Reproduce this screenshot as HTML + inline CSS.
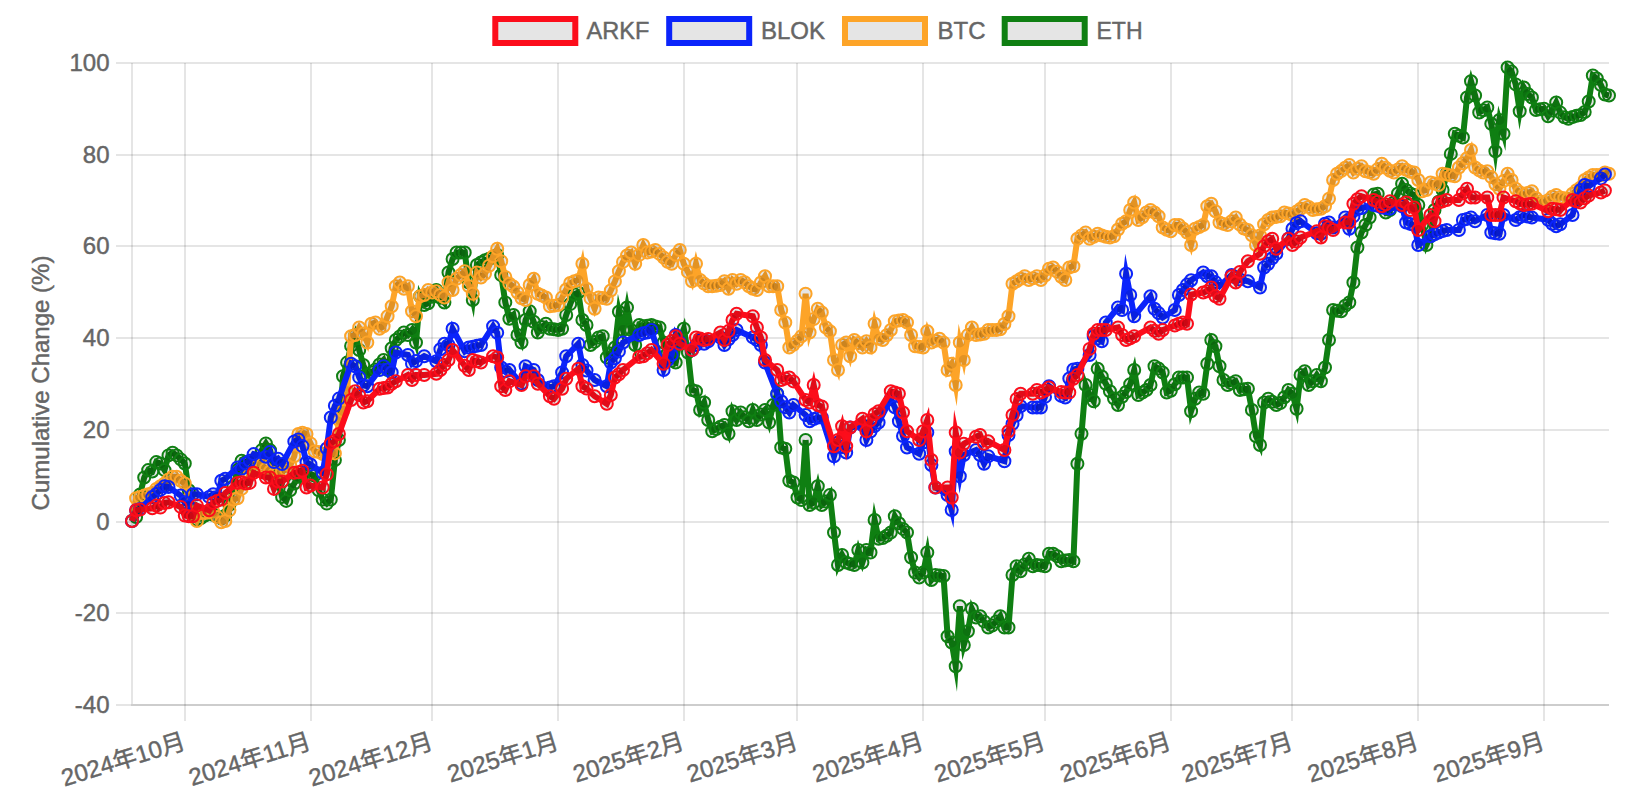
<!DOCTYPE html>
<html lang="zh"><head><meta charset="utf-8"><title>Cumulative Change</title>
<style>
html,body{margin:0;padding:0;background:#fff}
body{width:1644px;height:810px;overflow:hidden}
svg{display:block}
text{font-family:"Liberation Sans","Noto Sans CJK SC",sans-serif;font-size:24px;fill:#666;stroke:#666;stroke-width:.45px}
.g{stroke:#000;stroke-opacity:.1;stroke-width:2;fill:none}
.ln{fill:none;stroke-width:6;stroke-linejoin:miter;stroke-miterlimit:10}
.pt{fill:#000;fill-opacity:.1;stroke-width:2}
</style></head><body>
<svg width="1644" height="810" viewBox="0 0 1644 810">
<rect width="1644" height="810" fill="#fff"/>
<g id="legend">
<rect x="495.3" y="19" width="80" height="24" fill="#e5e5e5" stroke="#fc0d1b" stroke-width="6"/><text x="586.6" y="38.7" textLength="62.7" lengthAdjust="spacingAndGlyphs">ARKF</text>
<rect x="669.2" y="19" width="80" height="24" fill="#e5e5e5" stroke="#0b24fb" stroke-width="6"/><text x="761" y="38.7">BLOK</text>
<rect x="845" y="19" width="80" height="24" fill="#e5e5e5" stroke="#fda428" stroke-width="6"/><text x="937.5" y="38.7">BTC</text>
<rect x="1004.7" y="19" width="80" height="24" fill="#e5e5e5" stroke="#0f7f12" stroke-width="6"/><text x="1096.5" y="38.7" textLength="46.1" lengthAdjust="spacingAndGlyphs">ETH</text>
</g>
<g id="grid" class="g">
<path d="M116 63H1609"/><path d="M116 155H1609"/><path d="M116 246H1609"/><path d="M116 338H1609"/><path d="M116 430H1609"/><path d="M116 522H1609"/><path d="M116 613H1609"/><path d="M116 705H1609"/>
<path d="M185 63V721"/><path d="M311 63V721"/><path d="M432 63V721"/><path d="M558 63V721"/><path d="M684 63V721"/><path d="M797 63V721"/><path d="M923 63V721"/><path d="M1045 63V721"/><path d="M1171 63V721"/><path d="M1292 63V721"/><path d="M1418 63V721"/><path d="M1544 63V721"/>
<path d="M132 63V705H1609"/>
</g>
<g id="ylabels" text-anchor="end">
<text x="109.5" y="70.8">100</text><text x="109.5" y="162.8">80</text><text x="109.5" y="253.8">60</text><text x="109.5" y="345.8">40</text><text x="109.5" y="437.8">20</text><text x="109.5" y="529.8">0</text><text x="109.5" y="620.8">-20</text><text x="109.5" y="712.8">-40</text>
</g>
<text transform="translate(49,383) rotate(-90)" text-anchor="middle">Cumulative Change (%)</text>
<g id="xlabels" text-anchor="end">
<text transform="translate(186.8,748.4) rotate(-17.3)">2024年10月</text>
<text transform="translate(312.5,748.4) rotate(-17.3)">2024年11月</text>
<text transform="translate(434.3,748.4) rotate(-17.3)">2024年12月</text>
<text transform="translate(560.1,748.4) rotate(-17.3)">2025年1月</text>
<text transform="translate(685.8,748.4) rotate(-17.3)">2025年2月</text>
<text transform="translate(799.5,748.4) rotate(-17.3)">2025年3月</text>
<text transform="translate(925.2,748.4) rotate(-17.3)">2025年4月</text>
<text transform="translate(1047,748.4) rotate(-17.3)">2025年5月</text>
<text transform="translate(1172.8,748.4) rotate(-17.3)">2025年6月</text>
<text transform="translate(1294.5,748.4) rotate(-17.3)">2025年7月</text>
<text transform="translate(1420.3,748.4) rotate(-17.3)">2025年8月</text>
<text transform="translate(1546.1,748.4) rotate(-17.3)">2025年9月</text>
</g>
<g id="ETH" stroke="#0f7f12">
<path class="ln" d="M132 521 136.1 517 140.1 494.4 144.2 477.5 148.2 470.1 152.3 471.5 156.3 462.1 160.4 463.5 164.5 470.1 168.5 455.4 172.6 452.7 176.6 455.4 180.7 459.4 184.8 463.5 188.8 490.2 192.9 507.9 196.9 519.7 201 518.1 205 515.6 209.1 513 213.2 514.7 217.2 516.8 221.3 518.3 225.3 515.6 229.4 504.9 233.4 486.2 237.5 470.1 241.6 460.8 245.6 462.1 249.7 467.5 253.7 463.5 257.8 460.8 261.8 450.1 265.9 443.4 270 450.1 274 468.4 278.1 482.6 282.1 496.9 286.2 500.9 290.2 490.2 294.3 483.5 298.4 476.8 302.4 474.2 306.5 475.5 310.5 474.2 314.6 475.5 318.7 490.2 322.7 499.6 326.8 503.6 330.8 499.6 334.9 460 338.9 440 343 376.2 347.1 362.6 351.1 345.9 355.2 335 359.2 350 363.3 365 367.3 375 371.4 372.5 375.5 369.5 379.5 364.5 383.6 360 387.6 370 391.7 348.2 395.8 340 399.8 336.5 403.9 332.5 407.9 335 412 330 416 342.5 420.1 296.2 424.2 305 428.2 303.2 432.3 296.8 436.3 290 440.4 297.7 444.4 302.5 448.5 272.5 452.6 259 456.6 252.5 460.7 252.5 464.7 252.5 468.8 282.5 472.8 300 476.9 265 481 262.4 485 260.3 489.1 258.8 493.1 257.5 497.2 255 501.2 275 505.3 302.4 509.4 318.8 513.4 315 517.5 335 521.5 342.5 525.6 320 529.7 311.2 533.7 321.7 537.8 332.5 541.8 326.9 545.9 323.8 549.9 328.8 554 329.3 558.1 330 562.1 328.8 566.2 315 570.2 304.1 574.3 294.3 578.3 292.5 582.4 320 586.5 325 590.5 345 594.6 341.9 598.6 337.5 602.7 336.2 606.8 357.5 610.8 353.4 614.9 347.5 618.9 311.8 623 330 627 307.5 631.1 330 635.2 345 639.2 325 643.3 326.2 647.3 325.7 651.4 325 655.4 326.4 659.5 327.5 663.6 342.5 667.6 353.3 671.7 360.7 675.7 362.5 679.8 339.5 683.8 328.8 687.9 352.5 692 390 696 391.2 700.1 410 704.1 402.5 708.2 420 712.2 431.2 716.3 429 720.4 426.7 724.4 425 728.5 433.8 732.5 411.2 736.6 420 740.7 412.5 744.7 417.3 748.8 421.2 752.8 410 756.9 420 760.9 414.5 765 410 769.1 422.5 773.1 405 777.2 393.8 781.2 447.5 785.3 448.8 789.3 480.7 793.4 482.5 797.5 497.5 801.5 500 805.6 440 M805.6 440 809.6 505 813.7 502.5 817.8 486.2 821.8 505 825.9 501.6 829.9 495 834 532.5 838 565 842.1 555 846.2 562.5 850.2 563.9 854.3 565 858.3 550 862.4 562.5 866.4 550 870.5 552.5 874.6 520 878.6 538.8 882.7 538.1 886.7 535.8 890.8 532.5 894.8 516.2 898.9 523.3 903 528.9 907 532.5 911.1 557.5 915.1 572.5 919.2 577.5 923.2 572.5 927.3 552.5 931.4 580 935.4 575 939.5 575.5 943.5 576 947.6 636.2 951.7 642.5 955.7 666.2 959.8 606.2 963.8 645 967.9 631.2 971.9 608.8 976 617.5 980.1 616.2 984.1 621.4 988.2 627.5 992.2 625.6 996.3 621.4 1000.3 616.2 1004.4 627.5 1008.5 627.5 1012.5 575 1016.6 566.2 1020.6 571.2 1024.7 564.4 1028.8 558.8 1032.8 566.2 1036.9 565 1040.9 565.4 1045 566.2 1049 553.8 1053.1 553.8 1057.2 556.3 1061.2 561.2 1065.3 560.4 1069.3 560 1073.4 561.2 1077.4 463.8 1081.5 433.8 1085.6 385 1089.6 395 1093.7 401.2 1097.7 368.8 1101.8 376.5 1105.8 383.8 1109.9 391.2 1114 398.5 1118 405 1122.1 396.8 1126.1 392 1130.2 384.2 1134.2 370 1138.3 395 1142.4 392.6 1146.4 390 1150.5 385 1154.5 366.2 1158.6 368.6 1162.7 372.5 1166.7 392.5 1170.8 390.7 1174.8 384.2 1178.9 377.5 1182.9 377.5 1187 377.5 1191.1 411.2 1195.1 398.8 1199.2 392.5 1203.2 393.8 1207.3 363.8 1211.3 340 1215.4 346.2 1219.5 366.2 1223.5 380 1227.6 385 1231.6 383.2 1235.7 381.2 1239.8 390 1243.8 389.2 1247.9 388.8 1251.9 410 1256 436.2 1260 445 1264.1 402.5 1268.2 398.8 1272.2 401.7 1276.3 405 1280.3 403.1 1284.4 397.2 1288.4 390 1292.5 393.8 1296.6 408.8 1300.6 375 1304.7 371.2 1308.7 385 1312.8 381.3 1316.8 375 1320.9 381.2 1325 367.5 1329 340 1333.1 310 1337.1 310.7 1341.2 311.2 1345.2 305.7 1349.3 302.5 1353.4 282.5 1357.4 247.5 1361.5 232.5 1365.5 225 1369.6 217.5 1373.7 194.6 1377.7 193.8 1381.8 205.1 1385.8 212.5 1389.9 210 1393.9 202.5 1398 193.5 1402.1 183.8 1406.1 189.9 1410.2 193.4 1414.2 195 1418.3 205 1422.3 224.8 1426.4 245 1430.5 236.2 1434.5 210 1438.6 201.8 1442.6 190 1446.7 173.8 1450.8 153.9 1454.8 133.8 1458.9 135.7 1462.9 137.5 1467 97.5 1471 81.2 1475.1 95.5 1479.2 112.5 1483.2 110.3 1487.3 107.5 1491.3 123.8 1495.4 151.2 1499.4 120 1503.5 133.8 1507.6 67.5 1511.6 71.6 1515.7 84.4 1519.7 111.2 1523.8 87.5 1527.8 94 1531.9 97.5 1536 110 1540 109.3 1544.1 108.8 1548.1 116.2 1552.2 110.5 1556.2 102.5 1560.3 112.6 1564.4 117.3 1568.4 118.8 1572.5 117 1576.5 115.8 1580.6 115 1584.7 112 1588.7 101.5 1592.8 75.5 1596.8 78.5 1600.9 85 1604.9 94.5 1609 95.5"/>
<g class="pt"><circle cx="132" cy="521" r="6" fill="none"/><circle cx="136.1" cy="517" r="6"/><circle cx="140.1" cy="494.4" r="6"/><circle cx="144.2" cy="477.5" r="6"/><circle cx="148.2" cy="470.1" r="6"/><circle cx="152.3" cy="471.5" r="6"/><circle cx="156.3" cy="462.1" r="6"/><circle cx="160.4" cy="463.5" r="6"/><circle cx="164.5" cy="470.1" r="6"/><circle cx="168.5" cy="455.4" r="6"/>
<circle cx="172.6" cy="452.7" r="6"/><circle cx="176.6" cy="455.4" r="6"/><circle cx="180.7" cy="459.4" r="6"/><circle cx="184.8" cy="463.5" r="6"/><circle cx="188.8" cy="490.2" r="6"/><circle cx="192.9" cy="507.9" r="6"/><circle cx="196.9" cy="519.7" r="6"/><circle cx="201" cy="518.1" r="6"/><circle cx="205" cy="515.6" r="6"/><circle cx="209.1" cy="513" r="6"/>
<circle cx="213.2" cy="514.7" r="6"/><circle cx="217.2" cy="516.8" r="6"/><circle cx="221.3" cy="518.3" r="6"/><circle cx="225.3" cy="515.6" r="6"/><circle cx="229.4" cy="504.9" r="6"/><circle cx="233.4" cy="486.2" r="6"/><circle cx="237.5" cy="470.1" r="6"/><circle cx="241.6" cy="460.8" r="6"/><circle cx="245.6" cy="462.1" r="6"/><circle cx="249.7" cy="467.5" r="6"/>
<circle cx="253.7" cy="463.5" r="6"/><circle cx="257.8" cy="460.8" r="6"/><circle cx="261.8" cy="450.1" r="6"/><circle cx="265.9" cy="443.4" r="6"/><circle cx="270" cy="450.1" r="6"/><circle cx="274" cy="468.4" r="6"/><circle cx="278.1" cy="482.6" r="6"/><circle cx="282.1" cy="496.9" r="6"/><circle cx="286.2" cy="500.9" r="6"/><circle cx="290.2" cy="490.2" r="6"/>
<circle cx="294.3" cy="483.5" r="6"/><circle cx="298.4" cy="476.8" r="6"/><circle cx="302.4" cy="474.2" r="6"/><circle cx="306.5" cy="475.5" r="6"/><circle cx="310.5" cy="474.2" r="6"/><circle cx="314.6" cy="475.5" r="6"/><circle cx="318.7" cy="490.2" r="6"/><circle cx="322.7" cy="499.6" r="6"/><circle cx="326.8" cy="503.6" r="6"/><circle cx="330.8" cy="499.6" r="6"/>
<circle cx="334.9" cy="460" r="6"/><circle cx="338.9" cy="440" r="6"/><circle cx="343" cy="376.2" r="6"/><circle cx="347.1" cy="362.6" r="6"/><circle cx="351.1" cy="345.9" r="6"/><circle cx="355.2" cy="335" r="6"/><circle cx="359.2" cy="350" r="6"/><circle cx="363.3" cy="365" r="6"/><circle cx="367.3" cy="375" r="6"/><circle cx="371.4" cy="372.5" r="6"/>
<circle cx="375.5" cy="369.5" r="6"/><circle cx="379.5" cy="364.5" r="6"/><circle cx="383.6" cy="360" r="6"/><circle cx="387.6" cy="370" r="6"/><circle cx="391.7" cy="348.2" r="6"/><circle cx="395.8" cy="340" r="6"/><circle cx="399.8" cy="336.5" r="6"/><circle cx="403.9" cy="332.5" r="6"/><circle cx="407.9" cy="335" r="6"/><circle cx="412" cy="330" r="6"/>
<circle cx="416" cy="342.5" r="6"/><circle cx="420.1" cy="296.2" r="6"/><circle cx="424.2" cy="305" r="6"/><circle cx="428.2" cy="303.2" r="6"/><circle cx="432.3" cy="296.8" r="6"/><circle cx="436.3" cy="290" r="6"/><circle cx="440.4" cy="297.7" r="6"/><circle cx="444.4" cy="302.5" r="6"/><circle cx="448.5" cy="272.5" r="6"/><circle cx="452.6" cy="259" r="6"/>
<circle cx="456.6" cy="252.5" r="6"/><circle cx="460.7" cy="252.5" r="6"/><circle cx="464.7" cy="252.5" r="6"/><circle cx="468.8" cy="282.5" r="6"/><circle cx="472.8" cy="300" r="6"/><circle cx="476.9" cy="265" r="6"/><circle cx="481" cy="262.4" r="6"/><circle cx="485" cy="260.3" r="6"/><circle cx="489.1" cy="258.8" r="6"/><circle cx="493.1" cy="257.5" r="6"/>
<circle cx="497.2" cy="255" r="6"/><circle cx="501.2" cy="275" r="6"/><circle cx="505.3" cy="302.4" r="6"/><circle cx="509.4" cy="318.8" r="6"/><circle cx="513.4" cy="315" r="6"/><circle cx="517.5" cy="335" r="6"/><circle cx="521.5" cy="342.5" r="6"/><circle cx="525.6" cy="320" r="6"/><circle cx="529.7" cy="311.2" r="6"/><circle cx="533.7" cy="321.7" r="6"/>
<circle cx="537.8" cy="332.5" r="6"/><circle cx="541.8" cy="326.9" r="6"/><circle cx="545.9" cy="323.8" r="6"/><circle cx="549.9" cy="328.8" r="6"/><circle cx="554" cy="329.3" r="6"/><circle cx="558.1" cy="330" r="6"/><circle cx="562.1" cy="328.8" r="6"/><circle cx="566.2" cy="315" r="6"/><circle cx="570.2" cy="304.1" r="6"/><circle cx="574.3" cy="294.3" r="6"/>
<circle cx="578.3" cy="292.5" r="6"/><circle cx="582.4" cy="320" r="6"/><circle cx="586.5" cy="325" r="6"/><circle cx="590.5" cy="345" r="6"/><circle cx="594.6" cy="341.9" r="6"/><circle cx="598.6" cy="337.5" r="6"/><circle cx="602.7" cy="336.2" r="6"/><circle cx="606.8" cy="357.5" r="6"/><circle cx="610.8" cy="353.4" r="6"/><circle cx="614.9" cy="347.5" r="6"/>
<circle cx="618.9" cy="311.8" r="6"/><circle cx="623" cy="330" r="6"/><circle cx="627" cy="307.5" r="6"/><circle cx="631.1" cy="330" r="6"/><circle cx="635.2" cy="345" r="6"/><circle cx="639.2" cy="325" r="6"/><circle cx="643.3" cy="326.2" r="6"/><circle cx="647.3" cy="325.7" r="6"/><circle cx="651.4" cy="325" r="6"/><circle cx="655.4" cy="326.4" r="6"/>
<circle cx="659.5" cy="327.5" r="6"/><circle cx="663.6" cy="342.5" r="6"/><circle cx="667.6" cy="353.3" r="6"/><circle cx="671.7" cy="360.7" r="6"/><circle cx="675.7" cy="362.5" r="6"/><circle cx="679.8" cy="339.5" r="6"/><circle cx="683.8" cy="328.8" r="6"/><circle cx="687.9" cy="352.5" r="6"/><circle cx="692" cy="390" r="6"/><circle cx="696" cy="391.2" r="6"/>
<circle cx="700.1" cy="410" r="6"/><circle cx="704.1" cy="402.5" r="6"/><circle cx="708.2" cy="420" r="6"/><circle cx="712.2" cy="431.2" r="6"/><circle cx="716.3" cy="429" r="6"/><circle cx="720.4" cy="426.7" r="6"/><circle cx="724.4" cy="425" r="6"/><circle cx="728.5" cy="433.8" r="6"/><circle cx="732.5" cy="411.2" r="6"/><circle cx="736.6" cy="420" r="6"/>
<circle cx="740.7" cy="412.5" r="6"/><circle cx="744.7" cy="417.3" r="6"/><circle cx="748.8" cy="421.2" r="6"/><circle cx="752.8" cy="410" r="6"/><circle cx="756.9" cy="420" r="6"/><circle cx="760.9" cy="414.5" r="6"/><circle cx="765" cy="410" r="6"/><circle cx="769.1" cy="422.5" r="6"/><circle cx="773.1" cy="405" r="6"/><circle cx="777.2" cy="393.8" r="6"/>
<circle cx="781.2" cy="447.5" r="6"/><circle cx="785.3" cy="448.8" r="6"/><circle cx="789.3" cy="480.7" r="6"/><circle cx="793.4" cy="482.5" r="6"/><circle cx="797.5" cy="497.5" r="6"/><circle cx="801.5" cy="500" r="6"/><circle cx="805.6" cy="440" r="6"/><circle cx="809.6" cy="505" r="6"/><circle cx="813.7" cy="502.5" r="6"/><circle cx="817.8" cy="486.2" r="6"/>
<circle cx="821.8" cy="505" r="6"/><circle cx="825.9" cy="501.6" r="6"/><circle cx="829.9" cy="495" r="6"/><circle cx="834" cy="532.5" r="6"/><circle cx="838" cy="565" r="6"/><circle cx="842.1" cy="555" r="6"/><circle cx="846.2" cy="562.5" r="6"/><circle cx="850.2" cy="563.9" r="6"/><circle cx="854.3" cy="565" r="6"/><circle cx="858.3" cy="550" r="6"/>
<circle cx="862.4" cy="562.5" r="6"/><circle cx="866.4" cy="550" r="6"/><circle cx="870.5" cy="552.5" r="6"/><circle cx="874.6" cy="520" r="6"/><circle cx="878.6" cy="538.8" r="6"/><circle cx="882.7" cy="538.1" r="6"/><circle cx="886.7" cy="535.8" r="6"/><circle cx="890.8" cy="532.5" r="6"/><circle cx="894.8" cy="516.2" r="6"/><circle cx="898.9" cy="523.3" r="6"/>
<circle cx="903" cy="528.9" r="6"/><circle cx="907" cy="532.5" r="6"/><circle cx="911.1" cy="557.5" r="6"/><circle cx="915.1" cy="572.5" r="6"/><circle cx="919.2" cy="577.5" r="6"/><circle cx="923.2" cy="572.5" r="6"/><circle cx="927.3" cy="552.5" r="6"/><circle cx="931.4" cy="580" r="6"/><circle cx="935.4" cy="575" r="6"/><circle cx="939.5" cy="575.5" r="6"/>
<circle cx="943.5" cy="576" r="6"/><circle cx="947.6" cy="636.2" r="6"/><circle cx="951.7" cy="642.5" r="6"/><circle cx="955.7" cy="666.2" r="6"/><circle cx="959.8" cy="606.2" r="6"/><circle cx="963.8" cy="645" r="6"/><circle cx="967.9" cy="631.2" r="6"/><circle cx="971.9" cy="608.8" r="6"/><circle cx="976" cy="617.5" r="6"/><circle cx="980.1" cy="616.2" r="6"/>
<circle cx="984.1" cy="621.4" r="6"/><circle cx="988.2" cy="627.5" r="6"/><circle cx="992.2" cy="625.6" r="6"/><circle cx="996.3" cy="621.4" r="6"/><circle cx="1000.3" cy="616.2" r="6"/><circle cx="1004.4" cy="627.5" r="6"/><circle cx="1008.5" cy="627.5" r="6"/><circle cx="1012.5" cy="575" r="6"/><circle cx="1016.6" cy="566.2" r="6"/><circle cx="1020.6" cy="571.2" r="6"/>
<circle cx="1024.7" cy="564.4" r="6"/><circle cx="1028.8" cy="558.8" r="6"/><circle cx="1032.8" cy="566.2" r="6"/><circle cx="1036.9" cy="565" r="6"/><circle cx="1040.9" cy="565.4" r="6"/><circle cx="1045" cy="566.2" r="6"/><circle cx="1049" cy="553.8" r="6"/><circle cx="1053.1" cy="553.8" r="6"/><circle cx="1057.2" cy="556.3" r="6"/><circle cx="1061.2" cy="561.2" r="6"/>
<circle cx="1065.3" cy="560.4" r="6"/><circle cx="1069.3" cy="560" r="6"/><circle cx="1073.4" cy="561.2" r="6"/><circle cx="1077.4" cy="463.8" r="6"/><circle cx="1081.5" cy="433.8" r="6"/><circle cx="1085.6" cy="385" r="6"/><circle cx="1089.6" cy="395" r="6"/><circle cx="1093.7" cy="401.2" r="6"/><circle cx="1097.7" cy="368.8" r="6"/><circle cx="1101.8" cy="376.5" r="6"/>
<circle cx="1105.8" cy="383.8" r="6"/><circle cx="1109.9" cy="391.2" r="6"/><circle cx="1114" cy="398.5" r="6"/><circle cx="1118" cy="405" r="6"/><circle cx="1122.1" cy="396.8" r="6"/><circle cx="1126.1" cy="392" r="6"/><circle cx="1130.2" cy="384.2" r="6"/><circle cx="1134.2" cy="370" r="6"/><circle cx="1138.3" cy="395" r="6"/><circle cx="1142.4" cy="392.6" r="6"/>
<circle cx="1146.4" cy="390" r="6"/><circle cx="1150.5" cy="385" r="6"/><circle cx="1154.5" cy="366.2" r="6"/><circle cx="1158.6" cy="368.6" r="6"/><circle cx="1162.7" cy="372.5" r="6"/><circle cx="1166.7" cy="392.5" r="6"/><circle cx="1170.8" cy="390.7" r="6"/><circle cx="1174.8" cy="384.2" r="6"/><circle cx="1178.9" cy="377.5" r="6"/><circle cx="1182.9" cy="377.5" r="6"/>
<circle cx="1187" cy="377.5" r="6"/><circle cx="1191.1" cy="411.2" r="6"/><circle cx="1195.1" cy="398.8" r="6"/><circle cx="1199.2" cy="392.5" r="6"/><circle cx="1203.2" cy="393.8" r="6"/><circle cx="1207.3" cy="363.8" r="6"/><circle cx="1211.3" cy="340" r="6"/><circle cx="1215.4" cy="346.2" r="6"/><circle cx="1219.5" cy="366.2" r="6"/><circle cx="1223.5" cy="380" r="6"/>
<circle cx="1227.6" cy="385" r="6"/><circle cx="1231.6" cy="383.2" r="6"/><circle cx="1235.7" cy="381.2" r="6"/><circle cx="1239.8" cy="390" r="6"/><circle cx="1243.8" cy="389.2" r="6"/><circle cx="1247.9" cy="388.8" r="6"/><circle cx="1251.9" cy="410" r="6"/><circle cx="1256" cy="436.2" r="6"/><circle cx="1260" cy="445" r="6"/><circle cx="1264.1" cy="402.5" r="6"/>
<circle cx="1268.2" cy="398.8" r="6"/><circle cx="1272.2" cy="401.7" r="6"/><circle cx="1276.3" cy="405" r="6"/><circle cx="1280.3" cy="403.1" r="6"/><circle cx="1284.4" cy="397.2" r="6"/><circle cx="1288.4" cy="390" r="6"/><circle cx="1292.5" cy="393.8" r="6"/><circle cx="1296.6" cy="408.8" r="6"/><circle cx="1300.6" cy="375" r="6"/><circle cx="1304.7" cy="371.2" r="6"/>
<circle cx="1308.7" cy="385" r="6"/><circle cx="1312.8" cy="381.3" r="6"/><circle cx="1316.8" cy="375" r="6"/><circle cx="1320.9" cy="381.2" r="6"/><circle cx="1325" cy="367.5" r="6"/><circle cx="1329" cy="340" r="6"/><circle cx="1333.1" cy="310" r="6"/><circle cx="1337.1" cy="310.7" r="6"/><circle cx="1341.2" cy="311.2" r="6"/><circle cx="1345.2" cy="305.7" r="6"/>
<circle cx="1349.3" cy="302.5" r="6"/><circle cx="1353.4" cy="282.5" r="6"/><circle cx="1357.4" cy="247.5" r="6"/><circle cx="1361.5" cy="232.5" r="6"/><circle cx="1365.5" cy="225" r="6"/><circle cx="1369.6" cy="217.5" r="6"/><circle cx="1373.7" cy="194.6" r="6"/><circle cx="1377.7" cy="193.8" r="6"/><circle cx="1381.8" cy="205.1" r="6"/><circle cx="1385.8" cy="212.5" r="6"/>
<circle cx="1389.9" cy="210" r="6"/><circle cx="1393.9" cy="202.5" r="6"/><circle cx="1398" cy="193.5" r="6"/><circle cx="1402.1" cy="183.8" r="6"/><circle cx="1406.1" cy="189.9" r="6"/><circle cx="1410.2" cy="193.4" r="6"/><circle cx="1414.2" cy="195" r="6"/><circle cx="1418.3" cy="205" r="6"/><circle cx="1422.3" cy="224.8" r="6"/><circle cx="1426.4" cy="245" r="6"/>
<circle cx="1430.5" cy="236.2" r="6"/><circle cx="1434.5" cy="210" r="6"/><circle cx="1438.6" cy="201.8" r="6"/><circle cx="1442.6" cy="190" r="6"/><circle cx="1446.7" cy="173.8" r="6"/><circle cx="1450.8" cy="153.9" r="6"/><circle cx="1454.8" cy="133.8" r="6"/><circle cx="1458.9" cy="135.7" r="6"/><circle cx="1462.9" cy="137.5" r="6"/><circle cx="1467" cy="97.5" r="6"/>
<circle cx="1471" cy="81.2" r="6"/><circle cx="1475.1" cy="95.5" r="6"/><circle cx="1479.2" cy="112.5" r="6"/><circle cx="1483.2" cy="110.3" r="6"/><circle cx="1487.3" cy="107.5" r="6"/><circle cx="1491.3" cy="123.8" r="6"/><circle cx="1495.4" cy="151.2" r="6"/><circle cx="1499.4" cy="120" r="6"/><circle cx="1503.5" cy="133.8" r="6"/><circle cx="1507.6" cy="67.5" r="6"/>
<circle cx="1511.6" cy="71.6" r="6"/><circle cx="1515.7" cy="84.4" r="6"/><circle cx="1519.7" cy="111.2" r="6"/><circle cx="1523.8" cy="87.5" r="6"/><circle cx="1527.8" cy="94" r="6"/><circle cx="1531.9" cy="97.5" r="6"/><circle cx="1536" cy="110" r="6"/><circle cx="1540" cy="109.3" r="6"/><circle cx="1544.1" cy="108.8" r="6"/><circle cx="1548.1" cy="116.2" r="6"/>
<circle cx="1552.2" cy="110.5" r="6"/><circle cx="1556.2" cy="102.5" r="6"/><circle cx="1560.3" cy="112.6" r="6"/><circle cx="1564.4" cy="117.3" r="6"/><circle cx="1568.4" cy="118.8" r="6"/><circle cx="1572.5" cy="117" r="6"/><circle cx="1576.5" cy="115.8" r="6"/><circle cx="1580.6" cy="115" r="6"/><circle cx="1584.7" cy="112" r="6"/><circle cx="1588.7" cy="101.5" r="6"/>
<circle cx="1592.8" cy="75.5" r="6"/><circle cx="1596.8" cy="78.5" r="6"/><circle cx="1600.9" cy="85" r="6"/><circle cx="1604.9" cy="94.5" r="6"/><circle cx="1609" cy="95.5" r="6"/></g>
</g>
<g id="BTC" stroke="#fda428">
<path class="ln" d="M132 521 136.1 498.2 140.1 496.9 144.2 495.6 148.2 494.2 152.3 492.9 156.3 488.9 160.4 486.2 164.5 483.5 168.5 479.5 172.6 476.8 176.6 476.8 180.7 480.8 184.8 483.5 188.8 498.6 192.9 512.8 196.9 521 201 513 205 513 209.1 512.4 213.2 511.6 217.2 517 221.3 522.3 225.3 521 229.4 510.3 233.4 499.6 237.5 498.2 241.6 488.9 245.6 483.5 249.7 474.2 253.7 467.5 257.8 463.5 261.8 464.8 265.9 468.8 270 471.5 274 474.2 278.1 472.8 282.1 471.5 286.2 469.6 290.2 465.5 294.3 456.2 298.4 434 302.4 432.7 306.5 434 310.5 443.4 314.6 451.4 318.7 452.1 322.7 454.1 326.8 455.4 330.8 452.7 334.9 453.4 338.9 420 343 411 347.1 391.3 351.1 336.2 355.2 335 359.2 327.5 363.3 333.6 367.3 342.5 371.4 323.8 375.5 322.5 379.5 328.8 383.6 326.2 387.6 316.2 391.7 306.2 395.8 286.2 399.8 282.5 403.9 288.8 407.9 286.2 412 311.2 416 316.2 420.1 296.2 424.2 295 428.2 290 432.3 292.5 436.3 291.2 440.4 294.9 444.4 297.5 448.5 282.5 452.6 290 456.6 278.8 460.7 274.9 464.7 271.2 468.8 286.2 472.8 293.8 476.9 272.5 481 277.5 485 273.7 489.1 265.7 493.1 256.2 497.2 248.8 501.2 261.2 505.3 276.9 509.4 283.8 513.4 286.6 517.5 292.5 521.5 298.3 525.6 300 529.7 285 533.7 278.8 537.8 293.8 541.8 295.6 545.9 297.5 549.9 306.2 554 305.7 558.1 305 562.1 297.6 566.2 289.5 570.2 283 574.3 281.2 578.3 280 582.4 263.8 586.5 288.8 590.5 298.4 594.6 308.8 598.6 297.5 602.7 298 606.8 298.8 610.8 290.5 614.9 281.4 618.9 271.2 623 261.9 627 255.5 631.1 252.5 635.2 263.8 639.2 254.9 643.3 245 647.3 252.5 651.4 251.6 655.4 250 659.5 253.9 663.6 257.5 667.6 261.8 671.7 263.8 675.7 254.7 679.8 250 683.8 263.8 687.9 271.9 692 281.2 696 263.8 700.1 280 704.1 283.6 708.2 286.2 712.2 286.2 716.3 285.7 720.4 285 724.4 281.2 728.5 288.8 732.5 280 736.6 283.8 740.7 280 744.7 282.2 748.8 286.2 752.8 288.7 756.9 290 760.9 282.5 765 276.2 769.1 286.2 773.1 286.2 777.2 286.2 781.2 310 785.3 322.5 789.3 347.5 793.4 344.7 797.5 340.8 801.5 336.2 805.6 293.8 M805.6 293.8 809.6 332.5 813.7 319.1 817.8 308.8 821.8 312.5 825.9 327.5 829.9 331.2 834 360 838 370 842.1 345 846.2 342.5 850.2 356.2 854.3 340 858.3 343.1 862.4 347.5 866.4 341.2 870.5 347.5 874.6 323.8 878.6 338.8 882.7 340 886.7 335.2 890.8 330 894.8 321.2 898.9 320.6 903 320 907 322.5 911.1 335 915.1 346.2 919.2 346.8 923.2 347.5 927.3 331.2 931.4 342.5 935.4 340.7 939.5 338.8 943.5 342.5 947.6 370 951.7 363.8 955.7 385 959.8 342.5 963.8 360 967.9 335.1 971.9 327.5 976 335 980.1 334.5 984.1 333.8 988.2 330 992.2 330 996.3 330 1000.3 329.2 1004.4 324 1008.5 316.2 1012.5 283.8 1016.6 281.2 1020.6 278.7 1024.7 276.2 1028.8 280 1032.8 278.3 1036.9 276.2 1040.9 280 1045 275.5 1049 268.8 1053.1 267.5 1057.2 271.8 1061.2 276.8 1065.3 280 1069.3 267.5 1073.4 266.2 1077.4 238.8 1081.5 235.4 1085.6 232.5 1089.6 238.8 1093.7 236.8 1097.7 233.8 1101.8 235.5 1105.8 236.7 1109.9 237.5 1114 236.2 1118 229.5 1122.1 223.8 1126.1 221.2 1130.2 210 1134.2 202.5 1138.3 220 1142.4 217.2 1146.4 212.5 1150.5 210 1154.5 212.5 1158.6 216.2 1162.7 227.5 1166.7 229.7 1170.8 231.2 1174.8 225 1178.9 225 1182.9 228.5 1187 232.5 1191.1 245 1195.1 228.8 1199.2 227 1203.2 225 1207.3 206.2 1211.3 203.8 1215.4 211.2 1219.5 222.5 1223.5 223.9 1227.6 225 1231.6 221.2 1235.7 217.5 1239.8 224.5 1243.8 228.5 1247.9 230 1251.9 235.3 1256 245 1260 235.5 1264.1 224.3 1268.2 220 1272.2 217.5 1276.3 216.9 1280.3 216.2 1284.4 212.5 1288.4 213.4 1292.5 215 1296.6 211.6 1300.6 208.8 1304.7 205 1308.7 207 1312.8 210 1316.8 209.3 1320.9 208.8 1325 206.2 1329 198.8 1333.1 180 1337.1 173.8 1341.2 171.1 1345.2 167.8 1349.3 165 1353.4 172.5 1357.4 168.8 1361.5 166.2 1365.5 171.2 1369.6 172.2 1373.7 173.8 1377.7 169.1 1381.8 163.8 1385.8 167.8 1389.9 170.8 1393.9 172.5 1398 169.4 1402.1 166.2 1406.1 169.7 1410.2 171.8 1414.2 172.5 1418.3 180 1422.3 191.2 1426.4 190 1430.5 182.5 1434.5 183.6 1438.6 185 1442.6 173.8 1446.7 174.4 1450.8 175.6 1454.8 176.2 1458.9 167.5 1462.9 163.2 1467 158.2 1471 150 1475.1 167.5 1479.2 170.4 1483.2 172.5 1487.3 171.2 1491.3 177.1 1495.4 184.2 1499.4 188.8 1503.5 181.1 1507.6 173.8 1511.6 180 1515.7 188.8 1519.7 192.3 1523.8 195 1527.8 192.9 1531.9 191.2 1536 198 1540 201.6 1544.1 202.5 1548.1 200.2 1552.2 196.8 1556.2 195 1560.3 197.5 1564.4 198.3 1568.4 198.8 1572.5 193.8 1576.5 190.2 1580.6 187.5 1584.7 180 1588.7 177.4 1592.8 175 1596.8 175 1600.9 175 1604.9 172.5 1609 173.8"/>
<g class="pt"><circle cx="132" cy="521" r="6" fill="none"/><circle cx="136.1" cy="498.2" r="6"/><circle cx="140.1" cy="496.9" r="6"/><circle cx="144.2" cy="495.6" r="6"/><circle cx="148.2" cy="494.2" r="6"/><circle cx="152.3" cy="492.9" r="6"/><circle cx="156.3" cy="488.9" r="6"/><circle cx="160.4" cy="486.2" r="6"/><circle cx="164.5" cy="483.5" r="6"/><circle cx="168.5" cy="479.5" r="6"/>
<circle cx="172.6" cy="476.8" r="6"/><circle cx="176.6" cy="476.8" r="6"/><circle cx="180.7" cy="480.8" r="6"/><circle cx="184.8" cy="483.5" r="6"/><circle cx="188.8" cy="498.6" r="6"/><circle cx="192.9" cy="512.8" r="6"/><circle cx="196.9" cy="521" r="6"/><circle cx="201" cy="513" r="6"/><circle cx="205" cy="513" r="6"/><circle cx="209.1" cy="512.4" r="6"/>
<circle cx="213.2" cy="511.6" r="6"/><circle cx="217.2" cy="517" r="6"/><circle cx="221.3" cy="522.3" r="6"/><circle cx="225.3" cy="521" r="6"/><circle cx="229.4" cy="510.3" r="6"/><circle cx="233.4" cy="499.6" r="6"/><circle cx="237.5" cy="498.2" r="6"/><circle cx="241.6" cy="488.9" r="6"/><circle cx="245.6" cy="483.5" r="6"/><circle cx="249.7" cy="474.2" r="6"/>
<circle cx="253.7" cy="467.5" r="6"/><circle cx="257.8" cy="463.5" r="6"/><circle cx="261.8" cy="464.8" r="6"/><circle cx="265.9" cy="468.8" r="6"/><circle cx="270" cy="471.5" r="6"/><circle cx="274" cy="474.2" r="6"/><circle cx="278.1" cy="472.8" r="6"/><circle cx="282.1" cy="471.5" r="6"/><circle cx="286.2" cy="469.6" r="6"/><circle cx="290.2" cy="465.5" r="6"/>
<circle cx="294.3" cy="456.2" r="6"/><circle cx="298.4" cy="434" r="6"/><circle cx="302.4" cy="432.7" r="6"/><circle cx="306.5" cy="434" r="6"/><circle cx="310.5" cy="443.4" r="6"/><circle cx="314.6" cy="451.4" r="6"/><circle cx="318.7" cy="452.1" r="6"/><circle cx="322.7" cy="454.1" r="6"/><circle cx="326.8" cy="455.4" r="6"/><circle cx="330.8" cy="452.7" r="6"/>
<circle cx="334.9" cy="453.4" r="6"/><circle cx="338.9" cy="420" r="6"/><circle cx="343" cy="411" r="6"/><circle cx="347.1" cy="391.3" r="6"/><circle cx="351.1" cy="336.2" r="6"/><circle cx="355.2" cy="335" r="6"/><circle cx="359.2" cy="327.5" r="6"/><circle cx="363.3" cy="333.6" r="6"/><circle cx="367.3" cy="342.5" r="6"/><circle cx="371.4" cy="323.8" r="6"/>
<circle cx="375.5" cy="322.5" r="6"/><circle cx="379.5" cy="328.8" r="6"/><circle cx="383.6" cy="326.2" r="6"/><circle cx="387.6" cy="316.2" r="6"/><circle cx="391.7" cy="306.2" r="6"/><circle cx="395.8" cy="286.2" r="6"/><circle cx="399.8" cy="282.5" r="6"/><circle cx="403.9" cy="288.8" r="6"/><circle cx="407.9" cy="286.2" r="6"/><circle cx="412" cy="311.2" r="6"/>
<circle cx="416" cy="316.2" r="6"/><circle cx="420.1" cy="296.2" r="6"/><circle cx="424.2" cy="295" r="6"/><circle cx="428.2" cy="290" r="6"/><circle cx="432.3" cy="292.5" r="6"/><circle cx="436.3" cy="291.2" r="6"/><circle cx="440.4" cy="294.9" r="6"/><circle cx="444.4" cy="297.5" r="6"/><circle cx="448.5" cy="282.5" r="6"/><circle cx="452.6" cy="290" r="6"/>
<circle cx="456.6" cy="278.8" r="6"/><circle cx="460.7" cy="274.9" r="6"/><circle cx="464.7" cy="271.2" r="6"/><circle cx="468.8" cy="286.2" r="6"/><circle cx="472.8" cy="293.8" r="6"/><circle cx="476.9" cy="272.5" r="6"/><circle cx="481" cy="277.5" r="6"/><circle cx="485" cy="273.7" r="6"/><circle cx="489.1" cy="265.7" r="6"/><circle cx="493.1" cy="256.2" r="6"/>
<circle cx="497.2" cy="248.8" r="6"/><circle cx="501.2" cy="261.2" r="6"/><circle cx="505.3" cy="276.9" r="6"/><circle cx="509.4" cy="283.8" r="6"/><circle cx="513.4" cy="286.6" r="6"/><circle cx="517.5" cy="292.5" r="6"/><circle cx="521.5" cy="298.3" r="6"/><circle cx="525.6" cy="300" r="6"/><circle cx="529.7" cy="285" r="6"/><circle cx="533.7" cy="278.8" r="6"/>
<circle cx="537.8" cy="293.8" r="6"/><circle cx="541.8" cy="295.6" r="6"/><circle cx="545.9" cy="297.5" r="6"/><circle cx="549.9" cy="306.2" r="6"/><circle cx="554" cy="305.7" r="6"/><circle cx="558.1" cy="305" r="6"/><circle cx="562.1" cy="297.6" r="6"/><circle cx="566.2" cy="289.5" r="6"/><circle cx="570.2" cy="283" r="6"/><circle cx="574.3" cy="281.2" r="6"/>
<circle cx="578.3" cy="280" r="6"/><circle cx="582.4" cy="263.8" r="6"/><circle cx="586.5" cy="288.8" r="6"/><circle cx="590.5" cy="298.4" r="6"/><circle cx="594.6" cy="308.8" r="6"/><circle cx="598.6" cy="297.5" r="6"/><circle cx="602.7" cy="298" r="6"/><circle cx="606.8" cy="298.8" r="6"/><circle cx="610.8" cy="290.5" r="6"/><circle cx="614.9" cy="281.4" r="6"/>
<circle cx="618.9" cy="271.2" r="6"/><circle cx="623" cy="261.9" r="6"/><circle cx="627" cy="255.5" r="6"/><circle cx="631.1" cy="252.5" r="6"/><circle cx="635.2" cy="263.8" r="6"/><circle cx="639.2" cy="254.9" r="6"/><circle cx="643.3" cy="245" r="6"/><circle cx="647.3" cy="252.5" r="6"/><circle cx="651.4" cy="251.6" r="6"/><circle cx="655.4" cy="250" r="6"/>
<circle cx="659.5" cy="253.9" r="6"/><circle cx="663.6" cy="257.5" r="6"/><circle cx="667.6" cy="261.8" r="6"/><circle cx="671.7" cy="263.8" r="6"/><circle cx="675.7" cy="254.7" r="6"/><circle cx="679.8" cy="250" r="6"/><circle cx="683.8" cy="263.8" r="6"/><circle cx="687.9" cy="271.9" r="6"/><circle cx="692" cy="281.2" r="6"/><circle cx="696" cy="263.8" r="6"/>
<circle cx="700.1" cy="280" r="6"/><circle cx="704.1" cy="283.6" r="6"/><circle cx="708.2" cy="286.2" r="6"/><circle cx="712.2" cy="286.2" r="6"/><circle cx="716.3" cy="285.7" r="6"/><circle cx="720.4" cy="285" r="6"/><circle cx="724.4" cy="281.2" r="6"/><circle cx="728.5" cy="288.8" r="6"/><circle cx="732.5" cy="280" r="6"/><circle cx="736.6" cy="283.8" r="6"/>
<circle cx="740.7" cy="280" r="6"/><circle cx="744.7" cy="282.2" r="6"/><circle cx="748.8" cy="286.2" r="6"/><circle cx="752.8" cy="288.7" r="6"/><circle cx="756.9" cy="290" r="6"/><circle cx="760.9" cy="282.5" r="6"/><circle cx="765" cy="276.2" r="6"/><circle cx="769.1" cy="286.2" r="6"/><circle cx="773.1" cy="286.2" r="6"/><circle cx="777.2" cy="286.2" r="6"/>
<circle cx="781.2" cy="310" r="6"/><circle cx="785.3" cy="322.5" r="6"/><circle cx="789.3" cy="347.5" r="6"/><circle cx="793.4" cy="344.7" r="6"/><circle cx="797.5" cy="340.8" r="6"/><circle cx="801.5" cy="336.2" r="6"/><circle cx="805.6" cy="293.8" r="6"/><circle cx="809.6" cy="332.5" r="6"/><circle cx="813.7" cy="319.1" r="6"/><circle cx="817.8" cy="308.8" r="6"/>
<circle cx="821.8" cy="312.5" r="6"/><circle cx="825.9" cy="327.5" r="6"/><circle cx="829.9" cy="331.2" r="6"/><circle cx="834" cy="360" r="6"/><circle cx="838" cy="370" r="6"/><circle cx="842.1" cy="345" r="6"/><circle cx="846.2" cy="342.5" r="6"/><circle cx="850.2" cy="356.2" r="6"/><circle cx="854.3" cy="340" r="6"/><circle cx="858.3" cy="343.1" r="6"/>
<circle cx="862.4" cy="347.5" r="6"/><circle cx="866.4" cy="341.2" r="6"/><circle cx="870.5" cy="347.5" r="6"/><circle cx="874.6" cy="323.8" r="6"/><circle cx="878.6" cy="338.8" r="6"/><circle cx="882.7" cy="340" r="6"/><circle cx="886.7" cy="335.2" r="6"/><circle cx="890.8" cy="330" r="6"/><circle cx="894.8" cy="321.2" r="6"/><circle cx="898.9" cy="320.6" r="6"/>
<circle cx="903" cy="320" r="6"/><circle cx="907" cy="322.5" r="6"/><circle cx="911.1" cy="335" r="6"/><circle cx="915.1" cy="346.2" r="6"/><circle cx="919.2" cy="346.8" r="6"/><circle cx="923.2" cy="347.5" r="6"/><circle cx="927.3" cy="331.2" r="6"/><circle cx="931.4" cy="342.5" r="6"/><circle cx="935.4" cy="340.7" r="6"/><circle cx="939.5" cy="338.8" r="6"/>
<circle cx="943.5" cy="342.5" r="6"/><circle cx="947.6" cy="370" r="6"/><circle cx="951.7" cy="363.8" r="6"/><circle cx="955.7" cy="385" r="6"/><circle cx="959.8" cy="342.5" r="6"/><circle cx="963.8" cy="360" r="6"/><circle cx="967.9" cy="335.1" r="6"/><circle cx="971.9" cy="327.5" r="6"/><circle cx="976" cy="335" r="6"/><circle cx="980.1" cy="334.5" r="6"/>
<circle cx="984.1" cy="333.8" r="6"/><circle cx="988.2" cy="330" r="6"/><circle cx="992.2" cy="330" r="6"/><circle cx="996.3" cy="330" r="6"/><circle cx="1000.3" cy="329.2" r="6"/><circle cx="1004.4" cy="324" r="6"/><circle cx="1008.5" cy="316.2" r="6"/><circle cx="1012.5" cy="283.8" r="6"/><circle cx="1016.6" cy="281.2" r="6"/><circle cx="1020.6" cy="278.7" r="6"/>
<circle cx="1024.7" cy="276.2" r="6"/><circle cx="1028.8" cy="280" r="6"/><circle cx="1032.8" cy="278.3" r="6"/><circle cx="1036.9" cy="276.2" r="6"/><circle cx="1040.9" cy="280" r="6"/><circle cx="1045" cy="275.5" r="6"/><circle cx="1049" cy="268.8" r="6"/><circle cx="1053.1" cy="267.5" r="6"/><circle cx="1057.2" cy="271.8" r="6"/><circle cx="1061.2" cy="276.8" r="6"/>
<circle cx="1065.3" cy="280" r="6"/><circle cx="1069.3" cy="267.5" r="6"/><circle cx="1073.4" cy="266.2" r="6"/><circle cx="1077.4" cy="238.8" r="6"/><circle cx="1081.5" cy="235.4" r="6"/><circle cx="1085.6" cy="232.5" r="6"/><circle cx="1089.6" cy="238.8" r="6"/><circle cx="1093.7" cy="236.8" r="6"/><circle cx="1097.7" cy="233.8" r="6"/><circle cx="1101.8" cy="235.5" r="6"/>
<circle cx="1105.8" cy="236.7" r="6"/><circle cx="1109.9" cy="237.5" r="6"/><circle cx="1114" cy="236.2" r="6"/><circle cx="1118" cy="229.5" r="6"/><circle cx="1122.1" cy="223.8" r="6"/><circle cx="1126.1" cy="221.2" r="6"/><circle cx="1130.2" cy="210" r="6"/><circle cx="1134.2" cy="202.5" r="6"/><circle cx="1138.3" cy="220" r="6"/><circle cx="1142.4" cy="217.2" r="6"/>
<circle cx="1146.4" cy="212.5" r="6"/><circle cx="1150.5" cy="210" r="6"/><circle cx="1154.5" cy="212.5" r="6"/><circle cx="1158.6" cy="216.2" r="6"/><circle cx="1162.7" cy="227.5" r="6"/><circle cx="1166.7" cy="229.7" r="6"/><circle cx="1170.8" cy="231.2" r="6"/><circle cx="1174.8" cy="225" r="6"/><circle cx="1178.9" cy="225" r="6"/><circle cx="1182.9" cy="228.5" r="6"/>
<circle cx="1187" cy="232.5" r="6"/><circle cx="1191.1" cy="245" r="6"/><circle cx="1195.1" cy="228.8" r="6"/><circle cx="1199.2" cy="227" r="6"/><circle cx="1203.2" cy="225" r="6"/><circle cx="1207.3" cy="206.2" r="6"/><circle cx="1211.3" cy="203.8" r="6"/><circle cx="1215.4" cy="211.2" r="6"/><circle cx="1219.5" cy="222.5" r="6"/><circle cx="1223.5" cy="223.9" r="6"/>
<circle cx="1227.6" cy="225" r="6"/><circle cx="1231.6" cy="221.2" r="6"/><circle cx="1235.7" cy="217.5" r="6"/><circle cx="1239.8" cy="224.5" r="6"/><circle cx="1243.8" cy="228.5" r="6"/><circle cx="1247.9" cy="230" r="6"/><circle cx="1251.9" cy="235.3" r="6"/><circle cx="1256" cy="245" r="6"/><circle cx="1260" cy="235.5" r="6"/><circle cx="1264.1" cy="224.3" r="6"/>
<circle cx="1268.2" cy="220" r="6"/><circle cx="1272.2" cy="217.5" r="6"/><circle cx="1276.3" cy="216.9" r="6"/><circle cx="1280.3" cy="216.2" r="6"/><circle cx="1284.4" cy="212.5" r="6"/><circle cx="1288.4" cy="213.4" r="6"/><circle cx="1292.5" cy="215" r="6"/><circle cx="1296.6" cy="211.6" r="6"/><circle cx="1300.6" cy="208.8" r="6"/><circle cx="1304.7" cy="205" r="6"/>
<circle cx="1308.7" cy="207" r="6"/><circle cx="1312.8" cy="210" r="6"/><circle cx="1316.8" cy="209.3" r="6"/><circle cx="1320.9" cy="208.8" r="6"/><circle cx="1325" cy="206.2" r="6"/><circle cx="1329" cy="198.8" r="6"/><circle cx="1333.1" cy="180" r="6"/><circle cx="1337.1" cy="173.8" r="6"/><circle cx="1341.2" cy="171.1" r="6"/><circle cx="1345.2" cy="167.8" r="6"/>
<circle cx="1349.3" cy="165" r="6"/><circle cx="1353.4" cy="172.5" r="6"/><circle cx="1357.4" cy="168.8" r="6"/><circle cx="1361.5" cy="166.2" r="6"/><circle cx="1365.5" cy="171.2" r="6"/><circle cx="1369.6" cy="172.2" r="6"/><circle cx="1373.7" cy="173.8" r="6"/><circle cx="1377.7" cy="169.1" r="6"/><circle cx="1381.8" cy="163.8" r="6"/><circle cx="1385.8" cy="167.8" r="6"/>
<circle cx="1389.9" cy="170.8" r="6"/><circle cx="1393.9" cy="172.5" r="6"/><circle cx="1398" cy="169.4" r="6"/><circle cx="1402.1" cy="166.2" r="6"/><circle cx="1406.1" cy="169.7" r="6"/><circle cx="1410.2" cy="171.8" r="6"/><circle cx="1414.2" cy="172.5" r="6"/><circle cx="1418.3" cy="180" r="6"/><circle cx="1422.3" cy="191.2" r="6"/><circle cx="1426.4" cy="190" r="6"/>
<circle cx="1430.5" cy="182.5" r="6"/><circle cx="1434.5" cy="183.6" r="6"/><circle cx="1438.6" cy="185" r="6"/><circle cx="1442.6" cy="173.8" r="6"/><circle cx="1446.7" cy="174.4" r="6"/><circle cx="1450.8" cy="175.6" r="6"/><circle cx="1454.8" cy="176.2" r="6"/><circle cx="1458.9" cy="167.5" r="6"/><circle cx="1462.9" cy="163.2" r="6"/><circle cx="1467" cy="158.2" r="6"/>
<circle cx="1471" cy="150" r="6"/><circle cx="1475.1" cy="167.5" r="6"/><circle cx="1479.2" cy="170.4" r="6"/><circle cx="1483.2" cy="172.5" r="6"/><circle cx="1487.3" cy="171.2" r="6"/><circle cx="1491.3" cy="177.1" r="6"/><circle cx="1495.4" cy="184.2" r="6"/><circle cx="1499.4" cy="188.8" r="6"/><circle cx="1503.5" cy="181.1" r="6"/><circle cx="1507.6" cy="173.8" r="6"/>
<circle cx="1511.6" cy="180" r="6"/><circle cx="1515.7" cy="188.8" r="6"/><circle cx="1519.7" cy="192.3" r="6"/><circle cx="1523.8" cy="195" r="6"/><circle cx="1527.8" cy="192.9" r="6"/><circle cx="1531.9" cy="191.2" r="6"/><circle cx="1536" cy="198" r="6"/><circle cx="1540" cy="201.6" r="6"/><circle cx="1544.1" cy="202.5" r="6"/><circle cx="1548.1" cy="200.2" r="6"/>
<circle cx="1552.2" cy="196.8" r="6"/><circle cx="1556.2" cy="195" r="6"/><circle cx="1560.3" cy="197.5" r="6"/><circle cx="1564.4" cy="198.3" r="6"/><circle cx="1568.4" cy="198.8" r="6"/><circle cx="1572.5" cy="193.8" r="6"/><circle cx="1576.5" cy="190.2" r="6"/><circle cx="1580.6" cy="187.5" r="6"/><circle cx="1584.7" cy="180" r="6"/><circle cx="1588.7" cy="177.4" r="6"/>
<circle cx="1592.8" cy="175" r="6"/><circle cx="1596.8" cy="175" r="6"/><circle cx="1600.9" cy="175" r="6"/><circle cx="1604.9" cy="172.5" r="6"/><circle cx="1609" cy="173.8" r="6"/></g>
</g>
<g id="BLOK" stroke="#0b24fb">
<path class="ln" d="M132 521 136.1 510.3 140.1 509 152.3 497.1 156.3 494.1 160.4 489.9 164.5 486.2 168.5 487 180.7 495.6 184.8 502.3 188.8 506.3 192.9 494.2 196.9 494.2 209.1 496.9 213.2 494.2 217.2 496.9 221.3 480.8 225.3 478.8 237.5 467.5 241.6 468.8 245.6 463.5 249.7 460.8 253.7 454.1 265.9 456.8 270 452.1 274 462.1 278.1 458.8 282.1 464.1 294.3 441.4 298.4 439.4 302.4 446.1 306.5 462.2 310.5 464.5 322.7 472.8 326.8 448.5 330.8 417.5 334.9 405.7 338.9 398.6 351.1 363.8 355.2 366.2 359.2 377.4 363.3 385.4 367.3 386.2 379.5 370 383.6 366.2 387.6 369.5 391.7 372.5 395.8 352.5 407.9 355 412 363.8 416 361.1 424.2 356.2 436.3 361.2 440.4 349.3 444.4 343.8 448.5 345 452.6 328.8 464.7 351.2 468.8 347.5 472.8 346.8 476.9 345.8 481 345 493.1 326.2 497.2 332.8 501.2 367.5 505.3 371.2 509.4 370 521.5 383.8 525.6 366.2 533.7 370 537.8 380 549.9 387.5 554 386.2 562.1 372.5 566.2 356.2 578.3 343.8 582.4 365 586.5 370.5 594.6 380 606.8 386.2 610.8 362.5 614.9 358.2 618.9 351.4 623 342.5 639.2 335 643.3 333.3 647.3 332.5 651.4 330 663.6 370 667.6 360 671.7 355 675.7 335 679.8 342.5 692 350 696 345 700.1 340 704.1 343.8 708.2 341.4 720.4 337.5 724.4 345 728.5 339.3 732.5 335 736.6 330 752.8 337.4 756.9 340 760.9 345 765 362.5 777.2 393.9 781.2 401.2 785.3 407.3 789.3 412.5 793.4 405 805.6 415 809.6 421.2 813.7 419 817.8 417.5 821.8 417.5 834 456.2 838 442.5 842.1 447 846.2 452.5 850.2 427.5 862.4 425 866.4 440 870.5 431.5 874.6 426.1 878.6 422.5 890.8 398.8 894.8 407.2 898.9 421.2 903 436 907 447.5 919.2 453.8 923.2 442.5 927.3 432.5 931.4 465 935.4 487.5 947.6 495 951.7 510 955.7 451.2 959.8 476.2 963.8 455 976 450 980.1 455 984.1 463.8 988.2 456.2 1004.4 461.2 1008.5 435 1012.5 423.8 1016.6 415.3 1020.6 406.2 1032.8 407.5 1036.9 407.5 1040.9 407.5 1045 396.9 1049 386.2 1061.2 395.9 1065.3 397.5 1069.3 378.5 1073.4 369.5 1077.4 368.8 1089.6 355 1093.7 336.2 1097.7 338.4 1101.8 341.2 1105.8 322.5 1118 307.5 1122.1 310 1126.1 273.8 1130.2 295 1134.2 316.2 1150.5 296.2 1154.5 308.8 1158.6 313.1 1162.7 317.5 1174.8 310 1178.9 295 1182.9 290 1187 284.6 1191.1 280.2 1203.2 272.5 1207.3 276.2 1211.3 276.2 1215.4 282.1 1219.5 286.2 1231.6 275 1235.7 277.5 1239.8 279.4 1247.9 281.2 1260 287.5 1264.1 267.5 1268.2 263.8 1272.2 258.2 1276.3 253.8 1288.4 238.8 1292.5 228.8 1296.6 223 1300.6 221.2 1316.8 233.2 1320.9 233.8 1325 223.8 1329 222.5 1333.1 227.5 1345.2 217.5 1349.3 228.8 1353.4 216.4 1357.4 209.4 1361.5 208 1373.7 205 1377.7 205.7 1381.8 207.5 1385.8 208.1 1389.9 208.8 1402.1 206.2 1406.1 222.5 1410.2 223.9 1414.2 225 1418.3 245 1430.5 236.2 1434.5 234.2 1438.6 232.5 1442.6 231 1446.7 230 1458.9 230 1462.9 220 1467 218.9 1471 217.5 1475.1 221.2 1487.3 215 1491.3 232.5 1495.4 233.2 1499.4 233.8 1503.5 215 1515.7 220 1519.7 217.2 1523.8 215 1527.8 216.6 1531.9 217.5 1548.1 219.7 1552.2 223.8 1556.2 226.2 1560.3 224.3 1572.5 215 1576.5 200.8 1580.6 190 1584.7 185 1588.7 186.2 1600.9 178.4 1604.9 174.5"/>
<g class="pt"><circle cx="132" cy="521" r="6" fill="none"/><circle cx="136.1" cy="510.3" r="6"/><circle cx="140.1" cy="509" r="6"/><circle cx="152.3" cy="497.1" r="6"/><circle cx="156.3" cy="494.1" r="6"/><circle cx="160.4" cy="489.9" r="6"/><circle cx="164.5" cy="486.2" r="6"/><circle cx="168.5" cy="487" r="6"/><circle cx="180.7" cy="495.6" r="6"/><circle cx="184.8" cy="502.3" r="6"/>
<circle cx="188.8" cy="506.3" r="6"/><circle cx="192.9" cy="494.2" r="6"/><circle cx="196.9" cy="494.2" r="6"/><circle cx="209.1" cy="496.9" r="6"/><circle cx="213.2" cy="494.2" r="6"/><circle cx="217.2" cy="496.9" r="6"/><circle cx="221.3" cy="480.8" r="6"/><circle cx="225.3" cy="478.8" r="6"/><circle cx="237.5" cy="467.5" r="6"/><circle cx="241.6" cy="468.8" r="6"/>
<circle cx="245.6" cy="463.5" r="6"/><circle cx="249.7" cy="460.8" r="6"/><circle cx="253.7" cy="454.1" r="6"/><circle cx="265.9" cy="456.8" r="6"/><circle cx="270" cy="452.1" r="6"/><circle cx="274" cy="462.1" r="6"/><circle cx="278.1" cy="458.8" r="6"/><circle cx="282.1" cy="464.1" r="6"/><circle cx="294.3" cy="441.4" r="6"/><circle cx="298.4" cy="439.4" r="6"/>
<circle cx="302.4" cy="446.1" r="6"/><circle cx="306.5" cy="462.2" r="6"/><circle cx="310.5" cy="464.5" r="6"/><circle cx="322.7" cy="472.8" r="6"/><circle cx="326.8" cy="448.5" r="6"/><circle cx="330.8" cy="417.5" r="6"/><circle cx="334.9" cy="405.7" r="6"/><circle cx="338.9" cy="398.6" r="6"/><circle cx="351.1" cy="363.8" r="6"/><circle cx="355.2" cy="366.2" r="6"/>
<circle cx="359.2" cy="377.4" r="6"/><circle cx="363.3" cy="385.4" r="6"/><circle cx="367.3" cy="386.2" r="6"/><circle cx="379.5" cy="370" r="6"/><circle cx="383.6" cy="366.2" r="6"/><circle cx="387.6" cy="369.5" r="6"/><circle cx="391.7" cy="372.5" r="6"/><circle cx="395.8" cy="352.5" r="6"/><circle cx="407.9" cy="355" r="6"/><circle cx="412" cy="363.8" r="6"/>
<circle cx="416" cy="361.1" r="6"/><circle cx="424.2" cy="356.2" r="6"/><circle cx="436.3" cy="361.2" r="6"/><circle cx="440.4" cy="349.3" r="6"/><circle cx="444.4" cy="343.8" r="6"/><circle cx="448.5" cy="345" r="6"/><circle cx="452.6" cy="328.8" r="6"/><circle cx="464.7" cy="351.2" r="6"/><circle cx="468.8" cy="347.5" r="6"/><circle cx="472.8" cy="346.8" r="6"/>
<circle cx="476.9" cy="345.8" r="6"/><circle cx="481" cy="345" r="6"/><circle cx="493.1" cy="326.2" r="6"/><circle cx="497.2" cy="332.8" r="6"/><circle cx="501.2" cy="367.5" r="6"/><circle cx="505.3" cy="371.2" r="6"/><circle cx="509.4" cy="370" r="6"/><circle cx="521.5" cy="383.8" r="6"/><circle cx="525.6" cy="366.2" r="6"/><circle cx="533.7" cy="370" r="6"/>
<circle cx="537.8" cy="380" r="6"/><circle cx="549.9" cy="387.5" r="6"/><circle cx="554" cy="386.2" r="6"/><circle cx="562.1" cy="372.5" r="6"/><circle cx="566.2" cy="356.2" r="6"/><circle cx="578.3" cy="343.8" r="6"/><circle cx="582.4" cy="365" r="6"/><circle cx="586.5" cy="370.5" r="6"/><circle cx="594.6" cy="380" r="6"/><circle cx="606.8" cy="386.2" r="6"/>
<circle cx="610.8" cy="362.5" r="6"/><circle cx="614.9" cy="358.2" r="6"/><circle cx="618.9" cy="351.4" r="6"/><circle cx="623" cy="342.5" r="6"/><circle cx="639.2" cy="335" r="6"/><circle cx="643.3" cy="333.3" r="6"/><circle cx="647.3" cy="332.5" r="6"/><circle cx="651.4" cy="330" r="6"/><circle cx="663.6" cy="370" r="6"/><circle cx="667.6" cy="360" r="6"/>
<circle cx="671.7" cy="355" r="6"/><circle cx="675.7" cy="335" r="6"/><circle cx="679.8" cy="342.5" r="6"/><circle cx="692" cy="350" r="6"/><circle cx="696" cy="345" r="6"/><circle cx="700.1" cy="340" r="6"/><circle cx="704.1" cy="343.8" r="6"/><circle cx="708.2" cy="341.4" r="6"/><circle cx="720.4" cy="337.5" r="6"/><circle cx="724.4" cy="345" r="6"/>
<circle cx="728.5" cy="339.3" r="6"/><circle cx="732.5" cy="335" r="6"/><circle cx="736.6" cy="330" r="6"/><circle cx="752.8" cy="337.4" r="6"/><circle cx="756.9" cy="340" r="6"/><circle cx="760.9" cy="345" r="6"/><circle cx="765" cy="362.5" r="6"/><circle cx="777.2" cy="393.9" r="6"/><circle cx="781.2" cy="401.2" r="6"/><circle cx="785.3" cy="407.3" r="6"/>
<circle cx="789.3" cy="412.5" r="6"/><circle cx="793.4" cy="405" r="6"/><circle cx="805.6" cy="415" r="6"/><circle cx="809.6" cy="421.2" r="6"/><circle cx="813.7" cy="419" r="6"/><circle cx="817.8" cy="417.5" r="6"/><circle cx="821.8" cy="417.5" r="6"/><circle cx="834" cy="456.2" r="6"/><circle cx="838" cy="442.5" r="6"/><circle cx="842.1" cy="447" r="6"/>
<circle cx="846.2" cy="452.5" r="6"/><circle cx="850.2" cy="427.5" r="6"/><circle cx="862.4" cy="425" r="6"/><circle cx="866.4" cy="440" r="6"/><circle cx="870.5" cy="431.5" r="6"/><circle cx="874.6" cy="426.1" r="6"/><circle cx="878.6" cy="422.5" r="6"/><circle cx="890.8" cy="398.8" r="6"/><circle cx="894.8" cy="407.2" r="6"/><circle cx="898.9" cy="421.2" r="6"/>
<circle cx="903" cy="436" r="6"/><circle cx="907" cy="447.5" r="6"/><circle cx="919.2" cy="453.8" r="6"/><circle cx="923.2" cy="442.5" r="6"/><circle cx="927.3" cy="432.5" r="6"/><circle cx="931.4" cy="465" r="6"/><circle cx="935.4" cy="487.5" r="6"/><circle cx="947.6" cy="495" r="6"/><circle cx="951.7" cy="510" r="6"/><circle cx="955.7" cy="451.2" r="6"/>
<circle cx="959.8" cy="476.2" r="6"/><circle cx="963.8" cy="455" r="6"/><circle cx="976" cy="450" r="6"/><circle cx="980.1" cy="455" r="6"/><circle cx="984.1" cy="463.8" r="6"/><circle cx="988.2" cy="456.2" r="6"/><circle cx="1004.4" cy="461.2" r="6"/><circle cx="1008.5" cy="435" r="6"/><circle cx="1012.5" cy="423.8" r="6"/><circle cx="1016.6" cy="415.3" r="6"/>
<circle cx="1020.6" cy="406.2" r="6"/><circle cx="1032.8" cy="407.5" r="6"/><circle cx="1036.9" cy="407.5" r="6"/><circle cx="1040.9" cy="407.5" r="6"/><circle cx="1045" cy="396.9" r="6"/><circle cx="1049" cy="386.2" r="6"/><circle cx="1061.2" cy="395.9" r="6"/><circle cx="1065.3" cy="397.5" r="6"/><circle cx="1069.3" cy="378.5" r="6"/><circle cx="1073.4" cy="369.5" r="6"/>
<circle cx="1077.4" cy="368.8" r="6"/><circle cx="1089.6" cy="355" r="6"/><circle cx="1093.7" cy="336.2" r="6"/><circle cx="1097.7" cy="338.4" r="6"/><circle cx="1101.8" cy="341.2" r="6"/><circle cx="1105.8" cy="322.5" r="6"/><circle cx="1118" cy="307.5" r="6"/><circle cx="1122.1" cy="310" r="6"/><circle cx="1126.1" cy="273.8" r="6"/><circle cx="1130.2" cy="295" r="6"/>
<circle cx="1134.2" cy="316.2" r="6"/><circle cx="1150.5" cy="296.2" r="6"/><circle cx="1154.5" cy="308.8" r="6"/><circle cx="1158.6" cy="313.1" r="6"/><circle cx="1162.7" cy="317.5" r="6"/><circle cx="1174.8" cy="310" r="6"/><circle cx="1178.9" cy="295" r="6"/><circle cx="1182.9" cy="290" r="6"/><circle cx="1187" cy="284.6" r="6"/><circle cx="1191.1" cy="280.2" r="6"/>
<circle cx="1203.2" cy="272.5" r="6"/><circle cx="1207.3" cy="276.2" r="6"/><circle cx="1211.3" cy="276.2" r="6"/><circle cx="1215.4" cy="282.1" r="6"/><circle cx="1219.5" cy="286.2" r="6"/><circle cx="1231.6" cy="275" r="6"/><circle cx="1235.7" cy="277.5" r="6"/><circle cx="1239.8" cy="279.4" r="6"/><circle cx="1247.9" cy="281.2" r="6"/><circle cx="1260" cy="287.5" r="6"/>
<circle cx="1264.1" cy="267.5" r="6"/><circle cx="1268.2" cy="263.8" r="6"/><circle cx="1272.2" cy="258.2" r="6"/><circle cx="1276.3" cy="253.8" r="6"/><circle cx="1288.4" cy="238.8" r="6"/><circle cx="1292.5" cy="228.8" r="6"/><circle cx="1296.6" cy="223" r="6"/><circle cx="1300.6" cy="221.2" r="6"/><circle cx="1316.8" cy="233.2" r="6"/><circle cx="1320.9" cy="233.8" r="6"/>
<circle cx="1325" cy="223.8" r="6"/><circle cx="1329" cy="222.5" r="6"/><circle cx="1333.1" cy="227.5" r="6"/><circle cx="1345.2" cy="217.5" r="6"/><circle cx="1349.3" cy="228.8" r="6"/><circle cx="1353.4" cy="216.4" r="6"/><circle cx="1357.4" cy="209.4" r="6"/><circle cx="1361.5" cy="208" r="6"/><circle cx="1373.7" cy="205" r="6"/><circle cx="1377.7" cy="205.7" r="6"/>
<circle cx="1381.8" cy="207.5" r="6"/><circle cx="1385.8" cy="208.1" r="6"/><circle cx="1389.9" cy="208.8" r="6"/><circle cx="1402.1" cy="206.2" r="6"/><circle cx="1406.1" cy="222.5" r="6"/><circle cx="1410.2" cy="223.9" r="6"/><circle cx="1414.2" cy="225" r="6"/><circle cx="1418.3" cy="245" r="6"/><circle cx="1430.5" cy="236.2" r="6"/><circle cx="1434.5" cy="234.2" r="6"/>
<circle cx="1438.6" cy="232.5" r="6"/><circle cx="1442.6" cy="231" r="6"/><circle cx="1446.7" cy="230" r="6"/><circle cx="1458.9" cy="230" r="6"/><circle cx="1462.9" cy="220" r="6"/><circle cx="1467" cy="218.9" r="6"/><circle cx="1471" cy="217.5" r="6"/><circle cx="1475.1" cy="221.2" r="6"/><circle cx="1487.3" cy="215" r="6"/><circle cx="1491.3" cy="232.5" r="6"/>
<circle cx="1495.4" cy="233.2" r="6"/><circle cx="1499.4" cy="233.8" r="6"/><circle cx="1503.5" cy="215" r="6"/><circle cx="1515.7" cy="220" r="6"/><circle cx="1519.7" cy="217.2" r="6"/><circle cx="1523.8" cy="215" r="6"/><circle cx="1527.8" cy="216.6" r="6"/><circle cx="1531.9" cy="217.5" r="6"/><circle cx="1548.1" cy="219.7" r="6"/><circle cx="1552.2" cy="223.8" r="6"/>
<circle cx="1556.2" cy="226.2" r="6"/><circle cx="1560.3" cy="224.3" r="6"/><circle cx="1572.5" cy="215" r="6"/><circle cx="1576.5" cy="200.8" r="6"/><circle cx="1580.6" cy="190" r="6"/><circle cx="1584.7" cy="185" r="6"/><circle cx="1588.7" cy="186.2" r="6"/><circle cx="1600.9" cy="178.4" r="6"/><circle cx="1604.9" cy="174.5" r="6"/></g>
</g>
<g id="ARKF" stroke="#fc0d1b">
<path class="ln" d="M132 521 136.1 510.3 140.1 509.6 152.3 508.3 156.3 505.6 160.4 507.6 164.5 502.9 168.5 502.3 180.7 506.9 184.8 515.6 188.8 516.3 192.9 516.3 196.9 505.6 209.1 510.3 213.2 502.9 217.2 500.9 221.3 499.6 225.3 492.9 237.5 482.9 241.6 482.2 245.6 483.5 249.7 482.9 253.7 472.8 265.9 477.5 270 477.5 274 488.9 278.1 481.5 282.1 481.5 294.3 472.8 298.4 472.2 302.4 470.8 306.5 487.5 310.5 485.5 322.7 487.5 326.8 474.2 330.8 443.4 334.9 440.7 338.9 434 351.1 400 355.2 391.2 359.2 395 363.3 402.5 367.3 401.2 379.5 388.8 383.6 388 387.6 387.5 391.7 383.8 395.8 381.3 407.9 375 412 380 416 375 424.2 375 436.3 373.8 440.4 370 444.4 364.9 448.5 360 452.6 350 464.7 365.8 468.8 370 472.8 360 476.9 361.3 481 362.5 493.1 356.2 497.2 357.5 501.2 386.2 505.3 390 509.4 381.2 521.5 385 525.6 376.2 533.7 376.2 537.8 383.8 549.9 396.2 554 398.8 562.1 388.7 566.2 378.8 578.3 368.8 582.4 386.2 586.5 388.6 594.6 396.2 606.8 403.8 610.8 395 614.9 377.5 618.9 374.3 623 370 639.2 357 643.3 356.2 647.3 353.3 651.4 350 663.6 363.8 667.6 345 671.7 340.9 675.7 336.2 679.8 343.8 692 350 696 337.5 700.1 338.5 704.1 340 708.2 339.1 720.4 332.5 724.4 340 728.5 331.1 732.5 320 736.6 313.8 752.8 316.2 756.9 327.5 760.9 337.5 765 360 777.2 370 781.2 380 785.3 378.6 789.3 377.5 793.4 381.4 805.6 400 809.6 402.5 813.7 385 817.8 405 821.8 406.5 834 446.2 838 440 842.1 426.2 846.2 446.2 850.2 427.5 862.4 418.8 866.4 431.2 870.5 420.2 874.6 414 878.6 411.2 890.8 391.2 894.8 392.4 898.9 393.8 903 412.5 907 431.2 919.2 440 923.2 431.3 927.3 420 931.4 460 935.4 487.5 947.6 487.5 951.7 497.5 955.7 432.5 959.8 452.5 963.8 443.8 976 436.8 980.1 435 984.1 443.8 988.2 441.2 1004.4 450 1008.5 431.2 1012.5 415 1016.6 398.9 1020.6 393.8 1032.8 393.8 1036.9 390 1040.9 392.5 1045 390.5 1049 387.5 1061.2 392.1 1065.3 392.5 1069.3 392.5 1073.4 378.8 1077.4 375.1 1089.6 348.9 1093.7 333.8 1097.7 330 1101.8 330 1105.8 330 1118 327.5 1122.1 335 1126.1 340 1130.2 338.4 1134.2 336.3 1150.5 327.5 1154.5 330.8 1158.6 333.8 1162.7 330 1174.8 325.6 1178.9 323.7 1182.9 322.5 1187 323.8 1191.1 294.5 1203.2 292.5 1207.3 291.2 1211.3 287.5 1215.4 296.2 1219.5 298.8 1231.6 276.2 1235.7 282.5 1239.8 272 1247.9 261.2 1260 253.8 1264.1 246.2 1268.2 241.2 1272.2 238.8 1276.3 248.8 1288.4 238.8 1292.5 245 1296.6 241.6 1300.6 237.5 1316.8 231.2 1320.9 237.5 1325 226.2 1329 227.6 1333.1 230 1345.2 222.5 1349.3 222.5 1353.4 203.8 1357.4 199.3 1361.5 196.2 1373.7 200 1377.7 201.8 1381.8 206.2 1385.8 204.4 1389.9 201.2 1402.1 205 1406.1 202.5 1410.2 210 1414.2 207.5 1418.3 230 1430.5 215 1434.5 221.2 1438.6 202.5 1442.6 201.4 1446.7 200 1458.9 200 1462.9 193.4 1467 188.8 1471 197.5 1475.1 197.5 1487.3 197.5 1491.3 215 1495.4 215 1499.4 215 1503.5 197.5 1515.7 201.2 1519.7 203.4 1523.8 205 1527.8 204.2 1531.9 203.8 1548.1 211.2 1552.2 208.8 1556.2 209.3 1560.3 210 1572.5 200 1576.5 201.2 1580.6 202.5 1584.7 198.3 1588.7 195.6 1600.9 192.5 1604.9 190.5"/>
<g class="pt"><circle cx="132" cy="521" r="6"/><circle cx="136.1" cy="510.3" r="6"/><circle cx="140.1" cy="509.6" r="6"/><circle cx="152.3" cy="508.3" r="6"/><circle cx="156.3" cy="505.6" r="6"/><circle cx="160.4" cy="507.6" r="6"/><circle cx="164.5" cy="502.9" r="6"/><circle cx="168.5" cy="502.3" r="6"/><circle cx="180.7" cy="506.9" r="6"/><circle cx="184.8" cy="515.6" r="6"/>
<circle cx="188.8" cy="516.3" r="6"/><circle cx="192.9" cy="516.3" r="6"/><circle cx="196.9" cy="505.6" r="6"/><circle cx="209.1" cy="510.3" r="6"/><circle cx="213.2" cy="502.9" r="6"/><circle cx="217.2" cy="500.9" r="6"/><circle cx="221.3" cy="499.6" r="6"/><circle cx="225.3" cy="492.9" r="6"/><circle cx="237.5" cy="482.9" r="6"/><circle cx="241.6" cy="482.2" r="6"/>
<circle cx="245.6" cy="483.5" r="6"/><circle cx="249.7" cy="482.9" r="6"/><circle cx="253.7" cy="472.8" r="6"/><circle cx="265.9" cy="477.5" r="6"/><circle cx="270" cy="477.5" r="6"/><circle cx="274" cy="488.9" r="6"/><circle cx="278.1" cy="481.5" r="6"/><circle cx="282.1" cy="481.5" r="6"/><circle cx="294.3" cy="472.8" r="6"/><circle cx="298.4" cy="472.2" r="6"/>
<circle cx="302.4" cy="470.8" r="6"/><circle cx="306.5" cy="487.5" r="6"/><circle cx="310.5" cy="485.5" r="6"/><circle cx="322.7" cy="487.5" r="6"/><circle cx="326.8" cy="474.2" r="6"/><circle cx="330.8" cy="443.4" r="6"/><circle cx="334.9" cy="440.7" r="6"/><circle cx="338.9" cy="434" r="6"/><circle cx="351.1" cy="400" r="6"/><circle cx="355.2" cy="391.2" r="6"/>
<circle cx="359.2" cy="395" r="6"/><circle cx="363.3" cy="402.5" r="6"/><circle cx="367.3" cy="401.2" r="6"/><circle cx="379.5" cy="388.8" r="6"/><circle cx="383.6" cy="388" r="6"/><circle cx="387.6" cy="387.5" r="6"/><circle cx="391.7" cy="383.8" r="6"/><circle cx="395.8" cy="381.3" r="6"/><circle cx="407.9" cy="375" r="6"/><circle cx="412" cy="380" r="6"/>
<circle cx="416" cy="375" r="6"/><circle cx="424.2" cy="375" r="6"/><circle cx="436.3" cy="373.8" r="6"/><circle cx="440.4" cy="370" r="6"/><circle cx="444.4" cy="364.9" r="6"/><circle cx="448.5" cy="360" r="6"/><circle cx="452.6" cy="350" r="6"/><circle cx="464.7" cy="365.8" r="6"/><circle cx="468.8" cy="370" r="6"/><circle cx="472.8" cy="360" r="6"/>
<circle cx="476.9" cy="361.3" r="6"/><circle cx="481" cy="362.5" r="6"/><circle cx="493.1" cy="356.2" r="6"/><circle cx="497.2" cy="357.5" r="6"/><circle cx="501.2" cy="386.2" r="6"/><circle cx="505.3" cy="390" r="6"/><circle cx="509.4" cy="381.2" r="6"/><circle cx="521.5" cy="385" r="6"/><circle cx="525.6" cy="376.2" r="6"/><circle cx="533.7" cy="376.2" r="6"/>
<circle cx="537.8" cy="383.8" r="6"/><circle cx="549.9" cy="396.2" r="6"/><circle cx="554" cy="398.8" r="6"/><circle cx="562.1" cy="388.7" r="6"/><circle cx="566.2" cy="378.8" r="6"/><circle cx="578.3" cy="368.8" r="6"/><circle cx="582.4" cy="386.2" r="6"/><circle cx="586.5" cy="388.6" r="6"/><circle cx="594.6" cy="396.2" r="6"/><circle cx="606.8" cy="403.8" r="6"/>
<circle cx="610.8" cy="395" r="6"/><circle cx="614.9" cy="377.5" r="6"/><circle cx="618.9" cy="374.3" r="6"/><circle cx="623" cy="370" r="6"/><circle cx="639.2" cy="357" r="6"/><circle cx="643.3" cy="356.2" r="6"/><circle cx="647.3" cy="353.3" r="6"/><circle cx="651.4" cy="350" r="6"/><circle cx="663.6" cy="363.8" r="6"/><circle cx="667.6" cy="345" r="6"/>
<circle cx="671.7" cy="340.9" r="6"/><circle cx="675.7" cy="336.2" r="6"/><circle cx="679.8" cy="343.8" r="6"/><circle cx="692" cy="350" r="6"/><circle cx="696" cy="337.5" r="6"/><circle cx="700.1" cy="338.5" r="6"/><circle cx="704.1" cy="340" r="6"/><circle cx="708.2" cy="339.1" r="6"/><circle cx="720.4" cy="332.5" r="6"/><circle cx="724.4" cy="340" r="6"/>
<circle cx="728.5" cy="331.1" r="6"/><circle cx="732.5" cy="320" r="6"/><circle cx="736.6" cy="313.8" r="6"/><circle cx="752.8" cy="316.2" r="6"/><circle cx="756.9" cy="327.5" r="6"/><circle cx="760.9" cy="337.5" r="6"/><circle cx="765" cy="360" r="6"/><circle cx="777.2" cy="370" r="6"/><circle cx="781.2" cy="380" r="6"/><circle cx="785.3" cy="378.6" r="6"/>
<circle cx="789.3" cy="377.5" r="6"/><circle cx="793.4" cy="381.4" r="6"/><circle cx="805.6" cy="400" r="6"/><circle cx="809.6" cy="402.5" r="6"/><circle cx="813.7" cy="385" r="6"/><circle cx="817.8" cy="405" r="6"/><circle cx="821.8" cy="406.5" r="6"/><circle cx="834" cy="446.2" r="6"/><circle cx="838" cy="440" r="6"/><circle cx="842.1" cy="426.2" r="6"/>
<circle cx="846.2" cy="446.2" r="6"/><circle cx="850.2" cy="427.5" r="6"/><circle cx="862.4" cy="418.8" r="6"/><circle cx="866.4" cy="431.2" r="6"/><circle cx="870.5" cy="420.2" r="6"/><circle cx="874.6" cy="414" r="6"/><circle cx="878.6" cy="411.2" r="6"/><circle cx="890.8" cy="391.2" r="6"/><circle cx="894.8" cy="392.4" r="6"/><circle cx="898.9" cy="393.8" r="6"/>
<circle cx="903" cy="412.5" r="6"/><circle cx="907" cy="431.2" r="6"/><circle cx="919.2" cy="440" r="6"/><circle cx="923.2" cy="431.3" r="6"/><circle cx="927.3" cy="420" r="6"/><circle cx="931.4" cy="460" r="6"/><circle cx="935.4" cy="487.5" r="6"/><circle cx="947.6" cy="487.5" r="6"/><circle cx="951.7" cy="497.5" r="6"/><circle cx="955.7" cy="432.5" r="6"/>
<circle cx="959.8" cy="452.5" r="6"/><circle cx="963.8" cy="443.8" r="6"/><circle cx="976" cy="436.8" r="6"/><circle cx="980.1" cy="435" r="6"/><circle cx="984.1" cy="443.8" r="6"/><circle cx="988.2" cy="441.2" r="6"/><circle cx="1004.4" cy="450" r="6"/><circle cx="1008.5" cy="431.2" r="6"/><circle cx="1012.5" cy="415" r="6"/><circle cx="1016.6" cy="398.9" r="6"/>
<circle cx="1020.6" cy="393.8" r="6"/><circle cx="1032.8" cy="393.8" r="6"/><circle cx="1036.9" cy="390" r="6"/><circle cx="1040.9" cy="392.5" r="6"/><circle cx="1045" cy="390.5" r="6"/><circle cx="1049" cy="387.5" r="6"/><circle cx="1061.2" cy="392.1" r="6"/><circle cx="1065.3" cy="392.5" r="6"/><circle cx="1069.3" cy="392.5" r="6"/><circle cx="1073.4" cy="378.8" r="6"/>
<circle cx="1077.4" cy="375.1" r="6"/><circle cx="1089.6" cy="348.9" r="6"/><circle cx="1093.7" cy="333.8" r="6"/><circle cx="1097.7" cy="330" r="6"/><circle cx="1101.8" cy="330" r="6"/><circle cx="1105.8" cy="330" r="6"/><circle cx="1118" cy="327.5" r="6"/><circle cx="1122.1" cy="335" r="6"/><circle cx="1126.1" cy="340" r="6"/><circle cx="1130.2" cy="338.4" r="6"/>
<circle cx="1134.2" cy="336.3" r="6"/><circle cx="1150.5" cy="327.5" r="6"/><circle cx="1154.5" cy="330.8" r="6"/><circle cx="1158.6" cy="333.8" r="6"/><circle cx="1162.7" cy="330" r="6"/><circle cx="1174.8" cy="325.6" r="6"/><circle cx="1178.9" cy="323.7" r="6"/><circle cx="1182.9" cy="322.5" r="6"/><circle cx="1187" cy="323.8" r="6"/><circle cx="1191.1" cy="294.5" r="6"/>
<circle cx="1203.2" cy="292.5" r="6"/><circle cx="1207.3" cy="291.2" r="6"/><circle cx="1211.3" cy="287.5" r="6"/><circle cx="1215.4" cy="296.2" r="6"/><circle cx="1219.5" cy="298.8" r="6"/><circle cx="1231.6" cy="276.2" r="6"/><circle cx="1235.7" cy="282.5" r="6"/><circle cx="1239.8" cy="272" r="6"/><circle cx="1247.9" cy="261.2" r="6"/><circle cx="1260" cy="253.8" r="6"/>
<circle cx="1264.1" cy="246.2" r="6"/><circle cx="1268.2" cy="241.2" r="6"/><circle cx="1272.2" cy="238.8" r="6"/><circle cx="1276.3" cy="248.8" r="6"/><circle cx="1288.4" cy="238.8" r="6"/><circle cx="1292.5" cy="245" r="6"/><circle cx="1296.6" cy="241.6" r="6"/><circle cx="1300.6" cy="237.5" r="6"/><circle cx="1316.8" cy="231.2" r="6"/><circle cx="1320.9" cy="237.5" r="6"/>
<circle cx="1325" cy="226.2" r="6"/><circle cx="1329" cy="227.6" r="6"/><circle cx="1333.1" cy="230" r="6"/><circle cx="1345.2" cy="222.5" r="6"/><circle cx="1349.3" cy="222.5" r="6"/><circle cx="1353.4" cy="203.8" r="6"/><circle cx="1357.4" cy="199.3" r="6"/><circle cx="1361.5" cy="196.2" r="6"/><circle cx="1373.7" cy="200" r="6"/><circle cx="1377.7" cy="201.8" r="6"/>
<circle cx="1381.8" cy="206.2" r="6"/><circle cx="1385.8" cy="204.4" r="6"/><circle cx="1389.9" cy="201.2" r="6"/><circle cx="1402.1" cy="205" r="6"/><circle cx="1406.1" cy="202.5" r="6"/><circle cx="1410.2" cy="210" r="6"/><circle cx="1414.2" cy="207.5" r="6"/><circle cx="1418.3" cy="230" r="6"/><circle cx="1430.5" cy="215" r="6"/><circle cx="1434.5" cy="221.2" r="6"/>
<circle cx="1438.6" cy="202.5" r="6"/><circle cx="1442.6" cy="201.4" r="6"/><circle cx="1446.7" cy="200" r="6"/><circle cx="1458.9" cy="200" r="6"/><circle cx="1462.9" cy="193.4" r="6"/><circle cx="1467" cy="188.8" r="6"/><circle cx="1471" cy="197.5" r="6"/><circle cx="1475.1" cy="197.5" r="6"/><circle cx="1487.3" cy="197.5" r="6"/><circle cx="1491.3" cy="215" r="6"/>
<circle cx="1495.4" cy="215" r="6"/><circle cx="1499.4" cy="215" r="6"/><circle cx="1503.5" cy="197.5" r="6"/><circle cx="1515.7" cy="201.2" r="6"/><circle cx="1519.7" cy="203.4" r="6"/><circle cx="1523.8" cy="205" r="6"/><circle cx="1527.8" cy="204.2" r="6"/><circle cx="1531.9" cy="203.8" r="6"/><circle cx="1548.1" cy="211.2" r="6"/><circle cx="1552.2" cy="208.8" r="6"/>
<circle cx="1556.2" cy="209.3" r="6"/><circle cx="1560.3" cy="210" r="6"/><circle cx="1572.5" cy="200" r="6"/><circle cx="1576.5" cy="201.2" r="6"/><circle cx="1580.6" cy="202.5" r="6"/><circle cx="1584.7" cy="198.3" r="6"/><circle cx="1588.7" cy="195.6" r="6"/><circle cx="1600.9" cy="192.5" r="6"/><circle cx="1604.9" cy="190.5" r="6"/></g>
</g>
</svg>
</body></html>
